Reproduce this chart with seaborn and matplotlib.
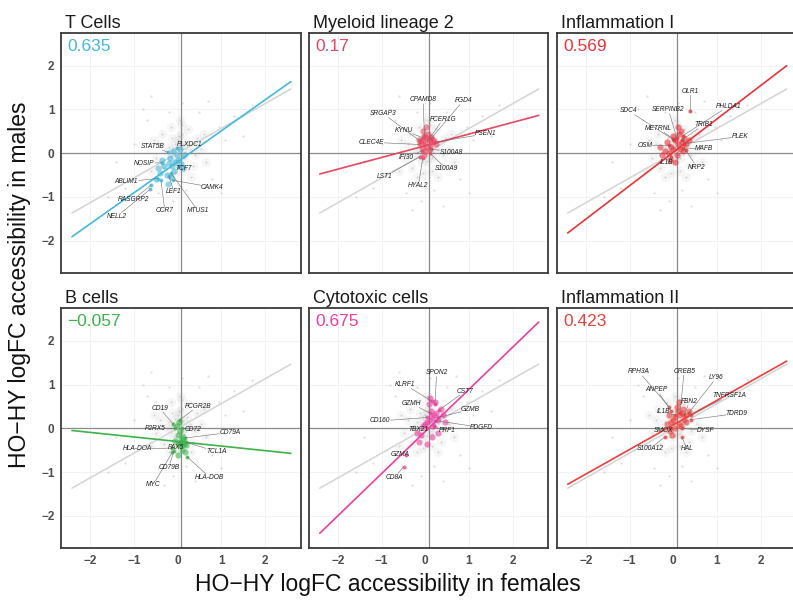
import numpy as np
import pandas as pd
import matplotlib
matplotlib.use("Agg")
import matplotlib.pyplot as plt
import seaborn as sns

sns.set_style("white")
plt.rcParams["font.family"] = ["Liberation Sans", "DejaVu Sans"]

# ---------------------------------------------------------------- data
TITLES = ["T Cells", "Myeloid lineage 2", "Inflammation I",
          "B cells", "Cytotoxic cells", "Inflammation II"]
CORR = [0.635, 0.17, 0.569, -0.057, 0.675, 0.423]
CORR_TEXT = ["0.635", "0.17", "0.569", "\u22120.057", "0.675", "0.423"]
COLORS = ["#45b8dc", "#e8475f", "#e8333a", "#3cb34a", "#ec3f9e", "#e8403d"]

# module-specific regression lines (slope, intercept)
FIT_SLOPE = [0.707, 0.267, 0.762, -0.104, 0.962, 0.561]
FIT_INTERCEPT = [-0.20, 0.17, 0.02, -0.30, -0.07, 0.08]
# genome-wide regression line, shared by every panel
ALL_SLOPE = 0.565
ALL_INTERCEPT = 0.0
FIT_X = [-2.42, 2.60]

# background cloud: all genes (dense core first, sparse tail after)
BG_CORE_X = [0.02, -0.10, 0.12, -0.05, 0.08, -0.15, 0.18, 0.00, -0.20, 0.22,
             0.05, -0.08, 0.15, -0.25, 0.28, 0.03, -0.12, 0.10, -0.03, 0.06,
             -0.40, 0.45, -0.30, 0.35, 0.10, -0.15, 0.55, -0.50, 0.25, -0.35,
             0.40, -0.05, 0.15, -0.55, 0.60, 0.05, -0.20, 0.30, -0.60, 0.65]
BG_CORE_Y = [0.10, 0.05, 0.18, 0.22, -0.05, -0.08, 0.02, 0.30, 0.15, 0.25,
             -0.18, -0.20, -0.12, 0.02, 0.10, 0.40, 0.35, 0.45, 0.02, 0.14,
             0.20, 0.35, -0.35, -0.30, 0.65, 0.60, 0.10, -0.10, 0.55, 0.45,
             -0.05, -0.45, -0.40, 0.30, 0.45, 0.75, -0.55, -0.55, -0.40, -0.20]
BG_TAIL_X = [-0.90, 0.95, -0.20, 0.20, 1.10, -1.00, 0.50, -0.70, 0.80, -0.45,
             1.30, -1.20, 0.10, -0.10, 1.50, -1.40, 0.70, -0.80, 1.00, -0.30,
             1.70, -1.60, 0.40, -0.60]
BG_TAIL_Y = [-0.50, 0.60, 0.95, -0.85, 0.30, 0.20, 0.95, 0.75, -0.60, -0.90,
             0.85, -0.80, 1.15, -1.10, 0.40, -0.20, 1.20, 1.00, -0.90, -1.30,
             1.10, -1.00, -1.20, 1.30]

# module genes per panel
TCELL_X = [-0.05, -0.12, 0.02, -0.20, -0.08, -0.30, 0.08, -0.18, -0.40, -0.02,
           -0.25, -0.10, 0.12, -0.35, -0.50, -0.22, 0.05, -0.15, 0.15, -0.45]
TCELL_Y = [-0.20, -0.30, -0.15, -0.22, -0.40, -0.30, -0.25, -0.10, -0.45, -0.05,
           -0.50, 0.05, -0.35, -0.15, -0.60, -0.70, 0.10, -0.55, -0.05, -0.35]
MYELOID_X = [0.00, 0.08, -0.05, 0.12, 0.03, -0.10, 0.15, 0.05, -0.02, 0.10,
             -0.08, 0.20, 0.00, 0.07, -0.15, 0.25, -0.03, 0.12, 0.02, -0.06]
MYELOID_Y = [0.25, 0.30, 0.20, 0.22, 0.35, 0.28, 0.32, 0.15, 0.40, 0.10,
             0.12, 0.28, 0.05, 0.45, 0.30, 0.20, -0.05, 0.38, 0.60, 0.50]
INFL1_X = [0.00, 0.10, -0.10, 0.20, 0.05, -0.20, 0.15, -0.05, 0.25, 0.08, -0.15,
           0.30, 0.00, 0.12, -0.25, 0.35, -0.08, 0.18, 0.04, -0.30, 0.22, 0.10]
INFL1_Y = [0.10, 0.20, 0.00, 0.25, 0.30, 0.05, 0.10, 0.15, 0.35, -0.05, 0.25,
           0.20, 0.40, 0.45, -0.05, 0.30, -0.15, 0.50, -0.20, 0.15, 0.05, 0.60]
BCELL_X = [0.05, 0.10, 0.00, 0.15, 0.08, -0.05, 0.12, 0.02,
           0.20, 0.06, -0.02, 0.18, 0.10, 0.00, 0.04, 0.14]
BCELL_Y = [-0.30, -0.25, -0.35, -0.30, -0.40, -0.28, -0.20, -0.15,
           -0.38, -0.05, 0.05, -0.55, -0.50, -0.60, 0.15, -0.35]
CYTO_X = [0.10, 0.20, 0.05, 0.25, 0.15, 0.00, 0.30, 0.12, -0.05, 0.35, 0.18,
          0.08, 0.40, -0.10, 0.22, 0.28, -0.15, 0.45, 0.05, 0.15, -0.20, 0.10]
CYTO_Y = [0.20, 0.30, 0.15, 0.35, 0.25, 0.10, 0.20, 0.40, 0.05, 0.45, 0.05,
          0.55, 0.30, -0.15, 0.60, -0.10, -0.30, 0.15, -0.35, -0.20, -0.10, 0.70]
INFL2_X = [0.05, 0.15, 0.00, 0.20, 0.10, -0.05, 0.25, 0.12, -0.10, 0.30,
           0.08, 0.18, -0.15, 0.22, 0.03, 0.28, -0.08, 0.35, 0.14, -0.02]
INFL2_Y = [0.25, 0.30, 0.20, 0.35, 0.40, 0.15, 0.20, 0.10, 0.30, 0.30,
           0.50, 0.05, 0.10, 0.45, 0.00, 0.15, -0.05, 0.40, 0.60, -0.15]

# labelled genes: name, position of the gene, position of its label
TCELL_GENES = ["STAT5B", "PLXDC1", "NOSIP", "TCF7", "ABLIM1", "CAMK4",
               "LEF1", "RASGRP2", "MTUS1", "CCR7", "NELL2"]
TCELL_GX = [-0.22, -0.02, -0.35, 0.02, -0.45, -0.10, -0.20, -0.60, -0.15, -0.38, -0.62]
TCELL_GY = [0.02, 0.12, -0.22, -0.32, -0.58, -0.62, -0.52, -0.72, -0.45, -0.62, -0.82]
TCELL_LX = [-0.58, 0.28, -0.76, 0.15, -1.17, 0.80, -0.08, -1.02, 0.46, -0.29, -1.40]
TCELL_LY = [0.16, 0.21, -0.23, -0.34, -0.65, -0.78, -0.88, -1.07, -1.31, -1.32, -1.45]

MYELOID_GENES = ["CPAMD8", "FGD4", "SRGAP3", "FCER1G", "KYNU", "CLEC4E",
                 "PSEN1", "S100A8", "IFI30", "S100A9", "LST1", "HYAL2"]
MYELOID_GX = [-0.02, 0.12, -0.12, 0.08, -0.05, -0.15, 0.22, 0.12, -0.08, 0.10, -0.12, -0.06]
MYELOID_GY = [0.40, 0.32, 0.28, 0.32, 0.35, 0.20, 0.25, 0.10, 0.05, 0.00, -0.08, -0.12]
MYELOID_LX = [-0.05, 0.87, -0.96, 0.41, -0.49, -1.23, 1.37, 0.60, -0.43, 0.49, -0.93, -0.16]
MYELOID_LY = [1.22, 1.20, 0.90, 0.78, 0.52, 0.25, 0.44, 0.02, -0.09, -0.36, -0.53, -0.75]

INFL1_GENES = ["OLR1", "PHLDA1", "SDC4", "SERPINB2", "TRIB1", "METRNL",
               "PLEK", "OSM", "MAFB", "IL1B", "NRP2"]
INFL1_GX = [0.38, 0.22, 0.02, 0.08, 0.20, 0.00, 0.25, -0.10, 0.22, -0.05, 0.28]
INFL1_GY = [0.97, 0.40, 0.30, 0.35, 0.30, 0.32, 0.22, 0.18, 0.12, -0.08, 0.08]
INFL1_LX = [0.38, 1.26, -1.03, -0.11, 0.69, -0.34, 1.53, -0.65, 0.70, -0.15, 0.54]
INFL1_LY = [1.41, 1.07, 0.97, 0.99, 0.65, 0.57, 0.38, 0.18, 0.10, -0.22, -0.32]

BCELL_GENES = ["CD19", "FCGR2B", "P2RX5", "CD72", "CD79A", "HLA-DOA",
               "PAX5", "TCL1A", "CD79B", "HLA-DOB", "MYC"]
BCELL_GX = [-0.10, 0.06, -0.05, 0.10, 0.18, -0.12, 0.05, 0.20, -0.08, 0.22, -0.12]
BCELL_GY = [0.10, 0.20, 0.00, 0.00, -0.22, -0.45, -0.30, -0.32, -0.52, -0.65, -0.55]
BCELL_LX = [-0.41, 0.47, -0.52, 0.36, 1.20, -0.92, -0.04, 0.89, -0.20, 0.74, -0.56]
BCELL_LY = [0.46, 0.51, 0.00, -0.02, -0.09, -0.47, -0.43, -0.53, -0.89, -1.12, -1.29]

CYTO_GENES = ["SPON2", "KLRF1", "CST7", "GZMH", "GZMB", "CD160",
              "PDGFD", "TBX21", "PRF1", "GZMA", "CD8A"]
CYTO_GX = [0.22, 0.15, 0.32, 0.10, 0.30, 0.05, 0.22, 0.05, 0.20, -0.45, -0.50]
CYTO_GY = [0.55, 0.62, 0.42, 0.35, 0.25, 0.25, 0.18, 0.00, 0.05, -0.62, -0.88]
CYTO_LX = [0.26, -0.47, 0.91, -0.31, 1.02, -1.04, 1.29, -0.16, 0.49, -0.58, -0.70]
CYTO_LY = [1.27, 1.00, 0.85, 0.57, 0.43, 0.17, 0.02, -0.02, -0.04, -0.59, -1.12]

INFL2_GENES = ["RPH3A", "CREB5", "LY96", "ANPEP", "TNFRSF1A", "FBN2",
               "IL1B", "TDRD9", "SMOX", "DYSF", "S100A12", "HAL"]
INFL2_GX = [-0.10, 0.15, 0.35, -0.05, 0.40, 0.25, 0.05, 0.40, -0.05, 0.20, -0.20, 0.20]
INFL2_GY = [0.50, 0.35, 0.35, 0.40, 0.30, 0.30, 0.30, 0.20, 0.00, 0.00, -0.20, -0.20]
INFL2_LX = [-0.79, 0.25, 0.99, -0.38, 1.28, 0.37, -0.23, 1.45, -0.23, 0.75, -0.54, 0.31]
INFL2_LY = [1.29, 1.31, 1.16, 0.88, 0.75, 0.61, 0.38, 0.34, -0.05, -0.05, -0.47, -0.47]

TICKS = [-2, -1, 0, 1, 2]

MODULE_PTS = [(TCELL_X, TCELL_Y), (MYELOID_X, MYELOID_Y), (INFL1_X, INFL1_Y),
              (BCELL_X, BCELL_Y), (CYTO_X, CYTO_Y), (INFL2_X, INFL2_Y)]
LABELLED = [
    (TCELL_GENES, TCELL_GX, TCELL_GY, TCELL_LX, TCELL_LY),
    (MYELOID_GENES, MYELOID_GX, MYELOID_GY, MYELOID_LX, MYELOID_LY),
    (INFL1_GENES, INFL1_GX, INFL1_GY, INFL1_LX, INFL1_LY),
    (BCELL_GENES, BCELL_GX, BCELL_GY, BCELL_LX, BCELL_LY),
    (CYTO_GENES, CYTO_GX, CYTO_GY, CYTO_LX, CYTO_LY),
    (INFL2_GENES, INFL2_GX, INFL2_GY, INFL2_LX, INFL2_LY),
]

# ---------------------------------------------------------------- layout
W, H = 793, 601
COL_LEFT = [61.5, 309.3, 557.3]
ROW_TOP = [32.5, 307.7]
PW, PH = 239.0, 240.5
XLIM = (-2.66, 2.82)
YLIM = (-2.74, 2.76)
VLINE_X = 0.09

fig = plt.figure(figsize=(W / 100, H / 100), dpi=100)
fig.patch.set_facecolor("white")

core = pd.DataFrame({"x": BG_CORE_X, "y": BG_CORE_Y})
allbg = pd.DataFrame({"x": BG_CORE_X + BG_TAIL_X, "y": BG_CORE_Y + BG_TAIL_Y})
line_df = pd.DataFrame({"x": FIT_X})
line_df["y"] = ALL_SLOPE * line_df["x"] + ALL_INTERCEPT


def leader_end(px, py, cx, cy, hw, hh):
    dx, dy = cx - px, cy - py
    s = min(hw / abs(dx) if dx else np.inf, hh / abs(dy) if dy else np.inf)
    if s >= 1:
        return None
    return cx - s * dx, cy - s * dy


for i in range(6):
    r, c = divmod(i, 3)
    ax = fig.add_axes([COL_LEFT[c] / W, 1 - (ROW_TOP[r] + PH) / H, PW / W, PH / H])
    col = COLORS[i]
    ax.set_xlim(*XLIM)
    ax.set_ylim(*YLIM)
    ax.set_xticks(TICKS)
    ax.set_yticks(TICKS)
    ax.grid(True, color="#edf1f1", lw=0.6)
    ax.set_axisbelow(True)

    ax.axhline(0, color="#8a8a8a", lw=0.9, zorder=1)
    ax.axvline(VLINE_X, color="#8a8a8a", lw=0.9, zorder=1)

    # background genes: soft haze around the dense core, fine dots everywhere
    sns.scatterplot(data=core, x="x", y="y", ax=ax, color="#8a8a8a", s=45,
                    alpha=0.07, linewidth=0, zorder=2, legend=False)
    sns.scatterplot(data=allbg, x="x", y="y", ax=ax, color="#a0a0a0", s=2.5,
                    alpha=0.35, linewidth=0, zorder=2, legend=False)

    # regression lines
    sns.lineplot(data=line_df, x="x", y="y", ax=ax, color="#d4d4d4", lw=1.1,
                 zorder=3, legend=False)
    fit = pd.DataFrame({"x": FIT_X})
    fit["y"] = FIT_SLOPE[i] * fit["x"] + FIT_INTERCEPT[i]
    sns.lineplot(data=fit, x="x", y="y", ax=ax, color=col, lw=1.2,
                 zorder=4, legend=False)

    # module genes
    mx, my = MODULE_PTS[i]
    mod = pd.DataFrame({"x": mx, "y": my})
    sns.scatterplot(data=mod, x="x", y="y", ax=ax, color=col, s=20,
                    alpha=0.6, linewidth=0, zorder=5, legend=False)

    names, gx, gy, lx, ly = LABELLED[i]
    genes = pd.DataFrame({"x": gx, "y": gy})
    sns.scatterplot(data=genes, x="x", y="y", ax=ax, color=col, s=8,
                    alpha=0.8, linewidth=0, zorder=5, legend=False)
    for name, px, py, tx, ty in zip(names, gx, gy, lx, ly):
        end = leader_end(px, py, tx, ty, 0.042 * len(name) + 0.03, 0.09)
        if end is not None:
            ax.plot([px, end[0]], [py, end[1]], color="#6e6e6e", lw=0.4, zorder=6)
        ax.text(tx, ty, name, fontsize=4.8, style="italic", color="#1e1e1e",
                ha="center", va="center", zorder=7)

    # correlation and panel title
    ax.text(0.025, 0.975, CORR_TEXT[i], transform=ax.transAxes, fontsize=12.5,
            color=col, ha="left", va="top", zorder=8)
    ax.text(4 / PW, 1 + 4.5 / PH, TITLES[i], transform=ax.transAxes,
            fontsize=13, color="#1a1a1a", ha="left", va="baseline")

    ax.set_xlabel("")
    ax.set_ylabel("")
    for sp in ax.spines.values():
        sp.set_color("#3a3a3a")
        sp.set_linewidth(1.3)

    ax.tick_params(axis="both", length=3.5, width=0.9, color="#333333",
                   labelsize=8.5, labelcolor="#4d4d4d", pad=1.5)
    if c != 0:
        ax.tick_params(axis="y", left=False, labelleft=False)
    if r == 0:
        ax.tick_params(axis="x", bottom=False, labelbottom=False)
    for lbl in ax.get_xticklabels() + ax.get_yticklabels():
        lbl.set_fontweight("bold")

fig.text(388 / W, 1 - 584 / H, "HO\u2212HY logFC accessibility in females",
         ha="center", va="center", fontsize=16.5, color="#111111")
fig.text(19.5 / W, 1 - 285 / H, "HO\u2212HY logFC accessibility in males",
         ha="center", va="center", rotation=90, fontsize=16.5, color="#111111")

fig.savefig("out.png", dpi=100, facecolor="white")
